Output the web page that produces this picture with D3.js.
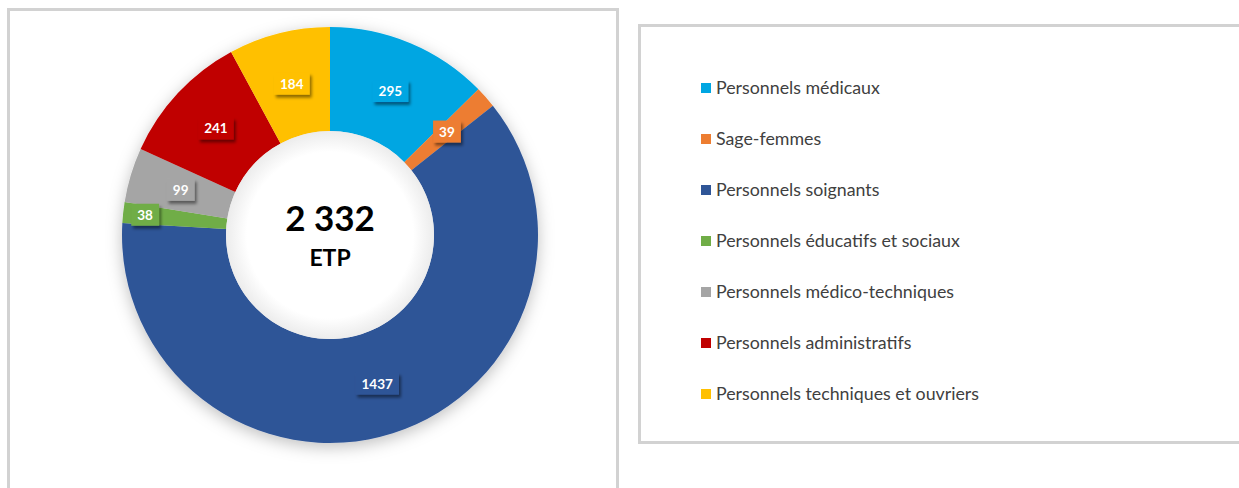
<!DOCTYPE html>
<html>
<head>
<meta charset="utf-8">
<script src="https://cdn.jsdelivr.net/npm/d3@7"></script>
<style>
  body { margin: 0; background: #fff; }
  svg { display: block; }
</style>
</head>
<body>
<svg id="chart" width="1239" height="488"></svg>
<script>
// data
const categories = [
  "Personnels médicaux",
  "Sage-femmes",
  "Personnels soignants",
  "Personnels éducatifs et sociaux",
  "Personnels médico-techniques",
  "Personnels administratifs",
  "Personnels techniques et ouvriers"
];
const values = [295, 39, 1437, 38, 99, 241, 184];
const colors = ["#00a6e2", "#ed7d31", "#2f5597", "#70ad47", "#a5a5a5", "#c00000", "#ffc000"];
const totalLabel = "2 332";
const unitLabel = "ETP";

const svg = d3.select('#chart');
const font = "Lato, 'Open Sans', sans-serif";

// panels
svg.append('rect')
  .attr('x', 8.5).attr('y', 9.5)
  .attr('width', 609).attr('height', 500)
  .attr('fill', 'none').attr('stroke', '#d2d2d2').attr('stroke-width', 3);

svg.append('rect')
  .attr('x', 639.5).attr('y', 25.5)
  .attr('width', 640).attr('height', 417)
  .attr('fill', 'none').attr('stroke', '#d2d2d2').attr('stroke-width', 3);

// shadows
const defs = svg.append('defs');
const ringShadow = defs.append('filter').attr('id', 'ringShadow')
  .attr('x', '-20%').attr('y', '-20%').attr('width', '140%').attr('height', '140%');
ringShadow.append('feDropShadow')
  .attr('dx', 0).attr('dy', 4).attr('stdDeviation', 8)
  .attr('flood-color', '#000').attr('flood-opacity', 0.25);

const boxShadow = defs.append('filter').attr('id', 'boxShadow')
  .attr('x', '-30%').attr('y', '-30%').attr('width', '170%').attr('height', '190%');
boxShadow.append('feDropShadow')
  .attr('dx', 2).attr('dy', 3).attr('stdDeviation', 1.5)
  .attr('flood-color', '#000').attr('flood-opacity', 0.45);

const holeGrad = defs.append('radialGradient').attr('id', 'holeGrad')
  .attr('cx', '50%').attr('cy', '50%').attr('r', '50%');
holeGrad.append('stop').attr('offset', '80%').attr('stop-color', '#ffffff');
holeGrad.append('stop').attr('offset', '100%').attr('stop-color', '#ececec');

// DONUT
const cx = 330, cy = 235;
const outerR = 208, innerR = 104;

const pie = d3.pie().sort(null).value(d => d.value);
const arc = d3.arc().innerRadius(innerR).outerRadius(outerR);

const data = categories.map((c, i) => ({ name: c, value: values[i], color: colors[i] }));
const arcs = pie(data);

const g = svg.append('g').attr('transform', 'translate(' + cx + ',' + cy + ')');

g.append('g')
  .attr('filter', 'url(#ringShadow)')
  .selectAll('path')
  .data(arcs)
  .enter()
  .append('path')
  .attr('d', arc)
  .attr('fill', d => d.data.color);

g.append('circle')
  .attr('r', innerR)
  .attr('fill', 'url(#holeGrad)');

// labels: centroid of the ring, the tiny green slice is pushed outward
const nudge = { "Personnels éducatifs et sociaux": 30 };
const labels = g.selectAll('.lbl')
  .data(arcs)
  .enter()
  .append('g')
  .attr('class', 'lbl')
  .attr('transform', d => {
    const a = (d.startAngle + d.endAngle) / 2;
    const r = (innerR + outerR) / 2 + (nudge[d.data.name] || 0);
    return 'translate(' + (Math.sin(a) * r) + ',' + (-Math.cos(a) * r) + ')';
  });

labels.append('text')
  .attr('text-anchor', 'middle')
  .attr('dy', '0.36em')
  .attr('font-family', font)
  .attr('font-weight', 'bold')
  .attr('font-size', 13.5)
  .attr('fill', '#fff')
  .text(d => d.data.value)
  .each(function(d) {
    const b = this.getBBox();
    d3.select(this.parentNode).insert('rect', 'text')
      .attr('x', b.x - 6).attr('y', b.y - 3)
      .attr('width', b.width + 12).attr('height', b.height + 6)
      .attr('fill', d.data.color)
      .attr('filter', 'url(#boxShadow)');
  });

// centre text
g.append('text')
  .attr('text-anchor', 'middle')
  .attr('y', -4)
  .attr('font-family', font)
  .attr('font-weight', 'bold')
  .attr('font-size', 35)
  .attr('fill', '#000')
  .text(totalLabel);

g.append('text')
  .attr('text-anchor', 'middle')
  .attr('y', 31)
  .attr('font-family', font)
  .attr('font-weight', 'bold')
  .attr('font-size', 23)
  .attr('fill', '#000')
  .text(unitLabel);

// LEGEND
const yLegend = d3.scalePoint()
  .domain(categories)
  .range([88, 394]);

const legend = svg.append('g').selectAll('g')
  .data(data)
  .enter()
  .append('g')
  .attr('transform', d => 'translate(701,' + yLegend(d.name) + ')');

legend.append('rect')
  .attr('x', 0).attr('y', -5)
  .attr('width', 10).attr('height', 10)
  .attr('fill', d => d.color);

legend.append('text')
  .attr('x', 15)
  .attr('dy', '0.35em')
  .attr('font-family', font)
  .attr('font-size', 17.8)
  .attr('fill', '#404040')
  .text(d => d.name);
</script>
</body>
</html>
